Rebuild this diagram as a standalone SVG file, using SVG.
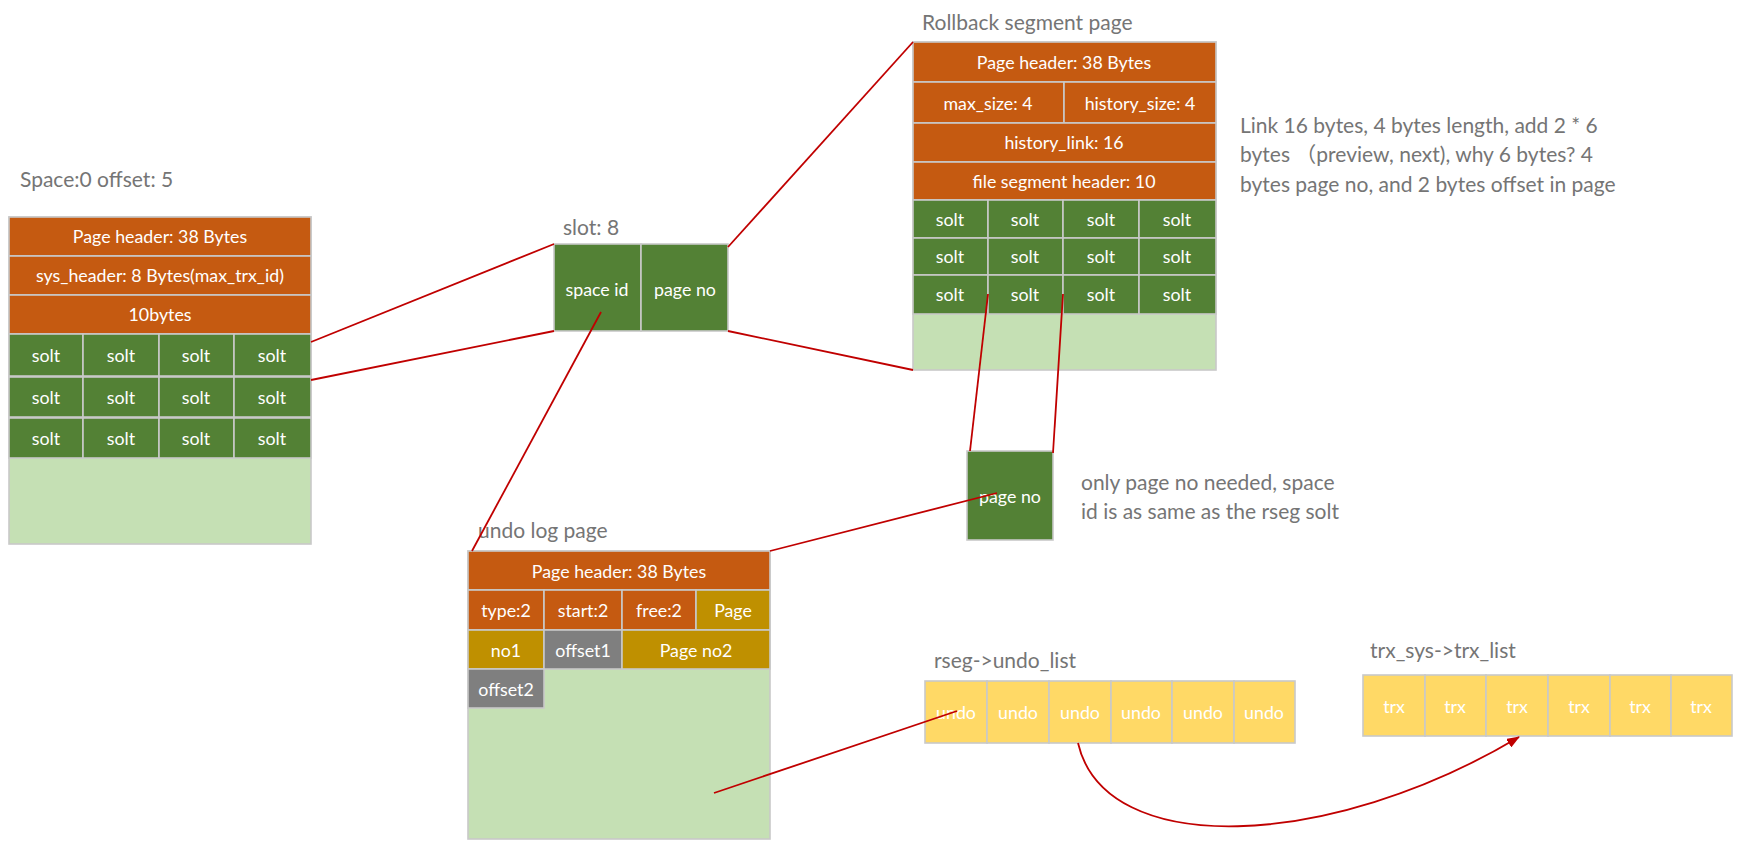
<svg xmlns="http://www.w3.org/2000/svg" width="1742" height="852" viewBox="0 0 1742 852">
<style>
text{font-family:Lato,"Liberation Sans","Noto Sans CJK SC",sans-serif}
.c{stroke:#c9c9c9;stroke-width:1.6}
.o{fill:#c55a11}
.g{fill:#538135}
.lg{fill:#c5e0b4}
.au{fill:#bf9000}
.gr{fill:#7f7f7f}
.y{fill:#ffd966}
.t{fill:#fff;font-size:17.8px;text-anchor:middle;dominant-baseline:central}
.lbl{fill:#757575;font-size:21px}
.con{stroke:#c00000;stroke-width:1.8;fill:none}
</style>
<defs>
<marker id="ah" markerWidth="13" markerHeight="10" refX="12" refY="5" orient="auto" markerUnits="userSpaceOnUse">
<path d="M0,0 L13,5 L0,10 z" fill="#c00000"/>
</marker>
</defs>
<rect width="1742" height="852" fill="#fff"/>

<g id="sys-page">
<text class="lbl" x="20" y="187">Space:0 offset: 5</text>
<rect class="lg c" x="9" y="217" width="302" height="327"/>
<rect class="o c" x="9" y="217" width="302" height="39"/>
<text class="t" x="160" y="236">Page header: 38 Bytes</text>
<rect class="o c" x="9" y="256" width="302" height="39"/>
<text class="t" x="160" y="275">sys_header: 8 Bytes(max_trx_id)</text>
<rect class="o c" x="9" y="295" width="302" height="39"/>
<text class="t" x="160" y="314">10bytes</text>
<rect class="g c" x="9" y="334" width="74" height="42"/><rect class="g c" x="83" y="334" width="76" height="42"/><rect class="g c" x="159" y="334" width="75" height="42"/><rect class="g c" x="234" y="334" width="77" height="42"/>
<rect class="g c" x="9" y="377" width="74" height="40"/><rect class="g c" x="83" y="377" width="76" height="40"/><rect class="g c" x="159" y="377" width="75" height="40"/><rect class="g c" x="234" y="377" width="77" height="40"/>
<rect class="g c" x="9" y="418" width="74" height="40"/><rect class="g c" x="83" y="418" width="76" height="40"/><rect class="g c" x="159" y="418" width="75" height="40"/><rect class="g c" x="234" y="418" width="77" height="40"/>
<text class="t" x="46" y="355">solt</text><text class="t" x="121" y="355">solt</text><text class="t" x="196" y="355">solt</text><text class="t" x="272" y="355">solt</text>
<text class="t" x="46" y="397">solt</text><text class="t" x="121" y="397">solt</text><text class="t" x="196" y="397">solt</text><text class="t" x="272" y="397">solt</text>
<text class="t" x="46" y="438">solt</text><text class="t" x="121" y="438">solt</text><text class="t" x="196" y="438">solt</text><text class="t" x="272" y="438">solt</text>
</g>

<g id="slot">
<text class="lbl" x="563" y="235">slot: 8</text>
<rect class="g c" x="554" y="244" width="87" height="87"/>
<rect class="g c" x="641" y="244" width="87" height="87"/>
<text class="t" x="597" y="289">space id</text>
<text class="t" x="685" y="289">page no</text>
</g>

<g id="rseg-page">
<text class="lbl" x="922" y="30">Rollback segment page</text>
<rect class="lg c" x="913" y="42" width="303" height="328"/>
<rect class="o c" x="913" y="42" width="303" height="40"/>
<text class="t" x="1064" y="62">Page header: 38 Bytes</text>
<rect class="o c" x="913" y="82" width="151" height="41"/>
<rect class="o c" x="1064" y="82" width="152" height="41"/>
<text class="t" x="988" y="103">max_size: 4</text>
<text class="t" x="1140" y="103">history_size: 4</text>
<rect class="o c" x="913" y="123" width="303" height="39"/>
<text class="t" x="1064" y="142">history_link: 16</text>
<rect class="o c" x="913" y="162" width="303" height="38"/>
<text class="t" x="1064" y="181">file segment header: 10</text>
<rect class="g c" x="913" y="200" width="75" height="38"/><rect class="g c" x="988" y="200" width="75" height="38"/><rect class="g c" x="1063" y="200" width="76" height="38"/><rect class="g c" x="1139" y="200" width="77" height="38"/>
<rect class="g c" x="913" y="238" width="75" height="37"/><rect class="g c" x="988" y="238" width="75" height="37"/><rect class="g c" x="1063" y="238" width="76" height="37"/><rect class="g c" x="1139" y="238" width="77" height="37"/>
<rect class="g c" x="913" y="275" width="75" height="39"/><rect class="g c" x="988" y="275" width="75" height="39"/><rect class="g c" x="1063" y="275" width="76" height="39"/><rect class="g c" x="1139" y="275" width="77" height="39"/>
<text class="t" x="950" y="219">solt</text><text class="t" x="1025" y="219">solt</text><text class="t" x="1101" y="219">solt</text><text class="t" x="1177" y="219">solt</text>
<text class="t" x="950" y="256">solt</text><text class="t" x="1025" y="256">solt</text><text class="t" x="1101" y="256">solt</text><text class="t" x="1177" y="256">solt</text>
<text class="t" x="950" y="294">solt</text><text class="t" x="1025" y="294">solt</text><text class="t" x="1101" y="294">solt</text><text class="t" x="1177" y="294">solt</text>
</g>

<g id="link-note">
<text class="lbl" x="1240" y="133">Link 16 bytes, 4 bytes length, add 2 * 6</text>
<text class="lbl" x="1240" y="162">bytes  （preview, next), why 6 bytes? 4</text>
<text class="lbl" x="1240" y="192">bytes page no, and 2 bytes offset in page</text>
</g>

<g id="pageno">
<rect class="g c" x="967" y="451" width="86" height="89"/>
<text class="t" x="1010" y="496">page no</text>
</g>

<g id="pageno-note">
<text class="lbl" x="1081" y="490">only page no needed, space</text>
<text class="lbl" x="1081" y="519">id is as same as the rseg solt</text>
</g>

<g id="undo-page">
<text class="lbl" x="478" y="538">undo log page</text>
<rect class="lg c" x="468" y="551" width="302" height="288"/>
<rect class="o c" x="468" y="551" width="302" height="39"/>
<text class="t" x="619" y="571">Page header: 38 Bytes</text>
<rect class="o c" x="468" y="590" width="76" height="40"/>
<rect class="o c" x="544" y="590" width="78" height="40"/>
<rect class="o c" x="622" y="590" width="74" height="40"/>
<rect class="au c" x="696" y="590" width="74" height="40"/>
<text class="t" x="506" y="610">type:2</text>
<text class="t" x="583" y="610">start:2</text>
<text class="t" x="659" y="610">free:2</text>
<text class="t" x="733" y="610">Page</text>
<rect class="au c" x="468" y="630" width="76" height="39"/>
<rect class="gr c" x="544" y="630" width="78" height="39"/>
<rect class="au c" x="622" y="630" width="148" height="39"/>
<text class="t" x="506" y="650">no1</text>
<text class="t" x="583" y="650">offset1</text>
<text class="t" x="696" y="650">Page no2</text>
<rect class="gr c" x="468" y="669" width="76" height="39"/>
<text class="t" x="506" y="689">offset2</text>
</g>

<g id="undo-list">
<text class="lbl" x="934" y="668">rseg-&gt;undo_list</text>
<rect class="y c" x="925" y="681" width="62" height="62"/><rect class="y c" x="987" y="681" width="62" height="62"/><rect class="y c" x="1049" y="681" width="62" height="62"/><rect class="y c" x="1111" y="681" width="61" height="62"/><rect class="y c" x="1172" y="681" width="62" height="62"/><rect class="y c" x="1234" y="681" width="61" height="62"/>
<text class="t" x="956" y="712">undo</text><text class="t" x="1018" y="712">undo</text><text class="t" x="1080" y="712">undo</text><text class="t" x="1141" y="712">undo</text><text class="t" x="1203" y="712">undo</text><text class="t" x="1264" y="712">undo</text>
</g>

<g id="trx-list">
<text class="lbl" x="1370" y="658">trx_sys-&gt;trx_list</text>
<rect class="y c" x="1363" y="675" width="62" height="61"/><rect class="y c" x="1425" y="675" width="61" height="61"/><rect class="y c" x="1486" y="675" width="62" height="61"/><rect class="y c" x="1548" y="675" width="62" height="61"/><rect class="y c" x="1610" y="675" width="61" height="61"/><rect class="y c" x="1671" y="675" width="61" height="61"/>
<text class="t" x="1394" y="706">trx</text><text class="t" x="1455" y="706">trx</text><text class="t" x="1517" y="706">trx</text><text class="t" x="1579" y="706">trx</text><text class="t" x="1640" y="706">trx</text><text class="t" x="1701" y="706">trx</text>
</g>

<g id="connectors">
<line class="con" x1="311" y1="342" x2="554" y2="244"/>
<line class="con" x1="311" y1="380" x2="554" y2="331"/>
<line class="con" x1="728" y1="247" x2="913" y2="42"/>
<line class="con" x1="728" y1="331" x2="913" y2="370"/>
<line class="con" x1="601" y1="312" x2="472" y2="551"/>
<line class="con" x1="988" y1="294" x2="970" y2="451"/>
<line class="con" x1="1063" y1="294" x2="1053" y2="453"/>
<line class="con" x1="770" y1="551" x2="997" y2="493"/>
<line class="con" x1="714" y1="793" x2="957" y2="711"/>
<path class="con" d="M1078,743 C1105,860 1330,850 1519,737" marker-end="url(#ah)"/>
</g>
</svg>
